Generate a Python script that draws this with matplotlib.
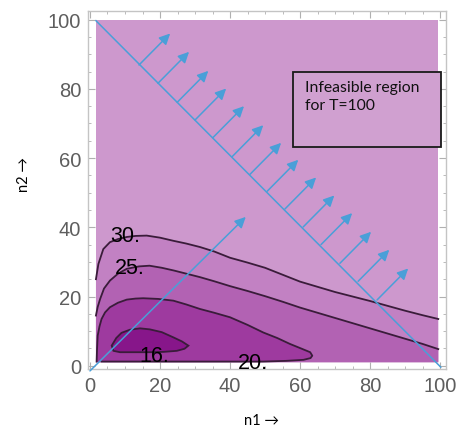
import matplotlib
matplotlib.use("Agg")
import matplotlib.pyplot as plt
from matplotlib.patches import Polygon, Rectangle, FancyArrowPatch

# ---- data ----
region_x = [1.7, 99.5]
region_y = [1.0, 100.0]

c30_x = [1.7, 2.4, 3.8, 5.7, 8.0, 10.5, 13.0, 16.2, 20.0, 23.8, 27.5, 31.4, 35.5, 40.0, 45.0, 50.0, 55.0, 60.0, 65.0, 70.0, 75.0, 80.0, 85.0, 90.0, 95.0, 99.5]
c30_y = [25.0, 29.4, 33.7, 35.7, 36.6, 37.2, 37.5, 37.6, 37.0, 36.1, 35.3, 34.3, 33.0, 31.2, 29.8, 28.3, 26.3, 24.3, 22.8, 21.3, 20.0, 18.7, 17.3, 15.9, 14.6, 13.5]

c25_x = [1.7, 2.2, 2.9, 4.0, 5.7, 8.0, 10.5, 14.0, 17.0, 20.5, 24.0, 27.5, 31.4, 35.5, 40.0, 45.0, 50.0, 55.0, 60.0, 65.0, 70.0, 75.0, 80.0, 85.0, 90.0, 95.0, 99.5]
c25_y = [14.5, 17.0, 19.3, 22.3, 24.6, 26.6, 28.0, 28.7, 28.9, 28.3, 27.5, 26.6, 25.6, 24.4, 23.0, 21.6, 20.1, 18.5, 16.8, 15.3, 13.8, 12.3, 10.8, 9.3, 7.8, 6.3, 4.8]

c20_x = [1.9, 2.0, 2.2, 2.7, 3.3, 4.3, 5.7, 8.0, 10.5, 13.0, 15.2, 19.5, 23.8, 27.5, 31.4, 35.5, 40.0, 45.0, 49.5, 53.5, 57.1, 60.5, 62.9, 63.5, 63.0, 61.0, 56.0, 49.4, 40.0, 30.0, 20.0, 10.0, 3.3]
c20_y = [1.2, 4.5, 8.7, 11.3, 13.5, 15.4, 16.9, 18.2, 19.1, 19.4, 19.5, 19.3, 18.8, 17.7, 16.4, 15.3, 14.0, 11.8, 9.6, 8.0, 6.3, 4.9, 3.9, 2.9, 2.2, 1.7, 1.4, 1.2, 1.2, 1.2, 1.2, 1.2, 1.2]

c16_x = [6.2, 7.5, 9.0, 11.4, 14.3, 17.1, 20.5, 23.8, 26.3, 28.1, 27.0, 24.8, 21.0, 17.1, 12.5, 8.6, 6.7]
c16_y = [5.8, 8.0, 9.5, 10.4, 10.8, 10.5, 9.7, 8.2, 7.0, 5.8, 4.9, 4.3, 4.0, 3.9, 3.9, 3.9, 4.3]

level_labels = ["30.", "25.", "20.", "16."]
label_x = [10.0, 11.4, 46.5, 18.3]
label_y = [37.5, 28.5, 1.0, 3.0]

diag_x = [1.7, 100.2]
diag_y = [99.7, -0.4]
ray_x = [0.0, 44.5]
ray_y = [-1.5, 43.0]

arrow_x0 = [14.0, 19.4, 24.9, 30.0, 35.1, 40.6, 45.7, 50.6, 55.7, 60.9, 66.0, 71.4, 76.6, 82.0]
arrow_y0 = [86.9, 81.6, 76.1, 71.0, 65.9, 60.4, 55.3, 50.4, 45.3, 40.1, 35.0, 29.6, 24.4, 19.0]
arrow_dx = 8.9
arrow_dy = 9.1

box_x = [58.0, 100.3]
box_y = [63.2, 84.9]
box_text = "Infeasible region\nfor T=100"

xticks = [0, 20, 40, 60, 80, 100]
yticks = [0, 20, 40, 60, 80, 100]

# ---- style ----
col_30 = "#CD98CD"
col_25 = "#C281C3"
col_20 = "#B262B3"
col_16 = "#9E3A9F"
col_in = "#87168A"
line_col = "#3a1c3a"
blue = "#4A9FD8"
arrow_style = "-|>,head_length=6.5,head_width=3.2"

fig = plt.figure(figsize=(4.58, 4.31), dpi=100)
ax = fig.add_axes([88 / 458, 61 / 431, 358 / 458, 358 / 431])
ax.set_xlim(-0.57, 101.7)
ax.set_ylim(-0.95, 102.5)

# background region (>30)
ax.add_patch(Rectangle((region_x[0], region_y[0]), region_x[1] - region_x[0],
                       region_y[1] - region_y[0], facecolor=col_30, edgecolor="none", zorder=1))

def under(xs, ys):
    return list(zip(xs, ys)) + [(region_x[1], region_y[0]), (region_x[0], region_y[0])]

ax.add_patch(Polygon(under(c30_x, c30_y), closed=True, facecolor=col_25, edgecolor="none", zorder=2))
ax.add_patch(Polygon(under(c25_x, c25_y), closed=True, facecolor=col_20, edgecolor="none", zorder=3))
ax.add_patch(Polygon(list(zip(c20_x, c20_y)) + [(region_x[0], region_y[0])], closed=True,
                     facecolor=col_16, edgecolor="none", zorder=4))
ax.add_patch(Polygon(list(zip(c16_x, c16_y)), closed=True, facecolor=col_in,
                     edgecolor=line_col, lw=1.3, zorder=5))
ax.plot(c30_x, c30_y, color=line_col, lw=1.3, zorder=6)
ax.plot(c25_x, c25_y, color=line_col, lw=1.3, zorder=6)
ax.plot(c20_x, c20_y, color=line_col, lw=1.3, zorder=6)

for t, x, y in zip(level_labels, label_x, label_y):
    ax.text(x, y, t, fontsize=15.5, family="Liberation Sans", color="black",
            ha="center", va="center", zorder=7)

# blue lines & arrows
ax.plot(diag_x, diag_y, color=blue, lw=1.1, zorder=8, clip_on=False)
ax.add_patch(FancyArrowPatch((ray_x[0], ray_y[0]), (ray_x[1], ray_y[1]),
                             arrowstyle=arrow_style, color=blue, lw=1.1, zorder=8,
                             shrinkA=0, shrinkB=0, clip_on=False))
for x0, y0 in zip(arrow_x0, arrow_y0):
    ax.add_patch(FancyArrowPatch((x0, y0), (x0 + arrow_dx, y0 + arrow_dy),
                                 arrowstyle=arrow_style, color=blue, lw=1.1, zorder=8,
                                 shrinkA=0, shrinkB=0))

# annotation box
ax.add_patch(Rectangle((box_x[0], box_y[0]), box_x[1] - box_x[0], box_y[1] - box_y[0],
                       facecolor="#D0A0D0", edgecolor="#1a1a1a", lw=1.3, zorder=9, clip_on=False))
ax.text(box_x[0] + 3.3, box_y[1] - 2.3, box_text, fontsize=11.3, family="Lato",
        color="#111111", ha="left", va="top", linespacing=1.35, zorder=10)

# frame & ticks
for s in ax.spines.values():
    s.set_color("#C4C4C4")
    s.set_linewidth(1.0)
ax.set_xticks(xticks)
ax.set_yticks(yticks)
ax.set_xticks(range(0, 101, 5), minor=True)
ax.set_yticks(range(0, 101, 5), minor=True)
ax.tick_params(which="both", direction="in", top=True, right=True, color="#B0B0B0")
ax.tick_params(which="major", length=5, width=0.8, labelsize=14.5, labelcolor="#5e5e5e", pad=5)
ax.tick_params(which="minor", length=2.5, width=0.6)
for lab in ax.get_xticklabels() + ax.get_yticklabels():
    lab.set_family("Liberation Sans")

fig.text(262 / 458, 1 - 421 / 431, "n1 →", fontsize=10.5, family=["Lato", "DejaVu Sans"],
         ha="center", va="center")
fig.text(24 / 458, 1 - 175 / 431, "n2 →", fontsize=10.5, family=["Lato", "DejaVu Sans"],
         rotation=90, ha="center", va="center")

fig.savefig("out.png", dpi=100, facecolor="white")
